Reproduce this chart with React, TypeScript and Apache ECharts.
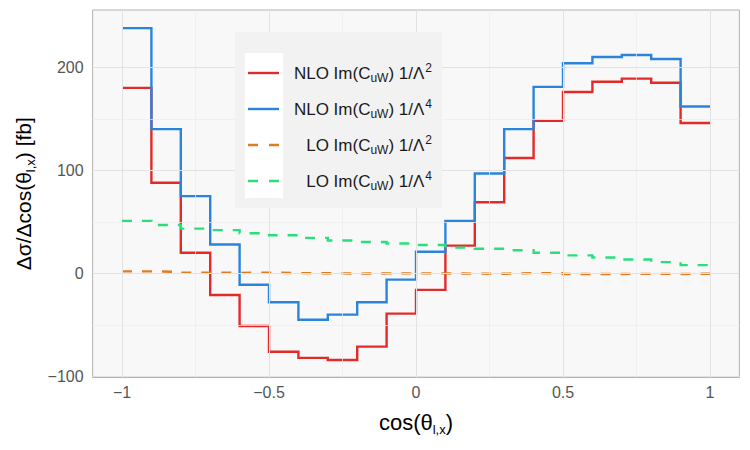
import React, { useEffect, useRef } from "react";
import * as echarts from "echarts";

const binEdges = [-1, -0.9, -0.8, -0.7, -0.6, -0.5, -0.4, -0.3, -0.2, -0.1, 0, 0.1, 0.2, 0.3, 0.4, 0.5, 0.6, 0.7, 0.8, 0.9, 1];

const nloL2 = [180, 88, 20, -21, -51, -76, -82, -84, -71, -39, -16, 27, 69, 112, 148, 176, 186, 189, 185, 146];
const nloL4 = [238, 140, 75, 28, -11, -28, -45, -40, -28, -6, 21, 51, 97, 140, 181, 204, 210, 212, 208, 162];
const loL2 = [2, 1.5, 0.8, 0.5, 0.8, 0.3, 0.2, -0.2, 0, 0, 0, -0.2, -0.3, 0.3, 0.2, -0.5, -0.5, -0.4, -0.5, -0.3];
const loL4 = [51, 47, 43.5, 42, 39, 37, 34.5, 32, 30.5, 29, 27.5, 25, 24, 22.5, 20, 17.5, 15.5, 13.5, 11, 8];

const xTicks = [-1, -0.5, 0, 0.5, 1];
const xMinor = [-0.75, -0.25, 0.25, 0.75];
const yTicks = [-100, 0, 100, 200];
const yMinor = [-50, 50, 150];

const seriesNames = ["NLO L2", "NLO L4", "LO L2", "LO L4"];
const colors = ["#e32a2a", "#2a84dc", "#e07d22", "#2ade7a"];

const FONT = "Liberation Sans, Arial, Helvetica, sans-serif";

function stepData(vals: number[]) {
  return binEdges.map((x, i) => [x, vals[Math.min(i, vals.length - 1)]]);
}

const fmtMinus = (v: number) => String(v).replace("-", "\u2212");

export default function App() {
  const ref = useRef<HTMLDivElement>(null);
  useEffect(() => {
    if (!ref.current) return;
    const chart = echarts.init(ref.current, undefined, { renderer: "svg" });
    const dataSets = [nloL2, nloL4, loL2, loL4];
    const dashed = [false, false, true, true];

    const legendTop = 32;
    const legendRows = [73, 109, 145, 181];
    const legendLabels = ["NLO", "NLO", "LO", "LO"];
    const legendPow = ["2", "4", "2", "4"];

    const legendGraphics: any[] = [
      { type: "rect", shape: { x: 235, y: legendTop, width: 207, height: 176 }, style: { fill: "#f2f2f2" }, z: 100 },
      { type: "rect", shape: { x: 245, y: 53, width: 38, height: 145 }, style: { fill: "#ffffff" }, z: 101 },
    ];
    legendRows.forEach((cy, i) => {
      legendGraphics.push({
        type: "line",
        shape: { x1: 248, y1: cy, x2: 279, y2: cy },
        style: { stroke: colors[i], lineWidth: 2.4, lineDash: dashed[i] ? [10, 11] : null },
        z: 102,
      });
      legendGraphics.push({
        type: "text",
        x: 432,
        y: cy,
        z: 102,
        style: {
          text: `{a|${legendLabels[i]} Im(C}{s|uW}{a|) 1/\u039b}{p|${legendPow[i]}}`,
          align: "right",
          verticalAlign: "middle",
          rich: {
            a: { fontSize: 17, fontFamily: FONT, fill: "#1a1a1a", lineHeight: 22, verticalAlign: "middle" },
            s: { fontSize: 12, fontFamily: FONT, fill: "#1a1a1a", lineHeight: 12, verticalAlign: "bottom", padding: [8, 0, 0, 0] },
            p: { fontSize: 12, fontFamily: FONT, fill: "#1a1a1a", lineHeight: 12, verticalAlign: "top", padding: [0, 0, 7, 1] },
          },
        },
      });
    });

    const gridMarks = {
      silent: true,
      symbol: ["none", "none"],
      label: { show: false },
      animation: false,
      data: [
        ...xTicks.map((v) => ({ xAxis: v, lineStyle: { color: "#e2e2e2", width: 1, type: "solid" } })),
        ...xMinor.map((v) => ({ xAxis: v, lineStyle: { color: "#ececec", width: 0.7, type: "solid" } })),
        ...yTicks.map((v) => ({ yAxis: v, lineStyle: { color: "#e2e2e2", width: 1, type: "solid" } })),
        ...yMinor.map((v) => ({ yAxis: v, lineStyle: { color: "#ececec", width: 0.7, type: "solid" } })),
      ],
    };

    chart.setOption({
      animation: false,
      grid: {
        left: 92.6,
        right: 10.6,
        top: 10,
        bottom: 72.5,
        show: true,
        backgroundColor: "#f8f8f8",
        borderColor: "#b3b3b3",
        borderWidth: 1,
      },
      xAxis: {
        type: "value",
        min: -1.1,
        max: 1.1,
        splitLine: { show: false },
        axisLine: { show: false },
        axisTick: { show: true, customValues: xTicks, length: 4, lineStyle: { color: "#b3b3b3", width: 1 } },
        axisLabel: {
          customValues: xTicks,
          formatter: (v: number) => fmtMinus(v),
          color: "#555555",
          fontSize: 16,
          fontFamily: FONT,
          margin: 7,
        },
        name: "{a|cos(\u03b8}{s|l,x}{a|)}",
        nameLocation: "middle",
        nameGap: 32,
        nameTextStyle: {
          rich: {
            a: { fontSize: 22, fontFamily: FONT, color: "#000", lineHeight: 26, verticalAlign: "middle" },
            s: { fontSize: 13, fontFamily: FONT, color: "#000", lineHeight: 13, verticalAlign: "bottom", padding: [10, 0, 0, 0] },
          },
        },
      },
      yAxis: {
        type: "value",
        min: -101,
        max: 255.6,
        splitLine: { show: false },
        axisLine: { show: false },
        axisTick: { show: true, customValues: yTicks, length: 4, lineStyle: { color: "#b3b3b3", width: 1 } },
        axisLabel: {
          customValues: yTicks,
          formatter: (v: number) => fmtMinus(v),
          color: "#555555",
          fontSize: 16,
          fontFamily: FONT,
          margin: 9,
        },
        name: "{a|\u0394\u03c3/\u0394cos(\u03b8}{s|l,x}{a|) [fb]}",
        nameLocation: "middle",
        nameRotate: 90,
        nameGap: 56,
        nameTextStyle: {
          rich: {
            a: { fontSize: 21, fontFamily: FONT, color: "#000", lineHeight: 26, verticalAlign: "middle" },
            s: { fontSize: 13, fontFamily: FONT, color: "#000", lineHeight: 13, verticalAlign: "bottom", padding: [10, 0, 0, 0] },
          },
        },
      },
      series: [
        {
          name: "grid",
          type: "line",
          data: [[-1, 0]],
          symbol: "none",
          lineStyle: { width: 0, opacity: 0 },
          z: 1,
          silent: true,
          markLine: gridMarks,
        },
        ...dataSets.map((vals, i) => ({
          name: seriesNames[i],
          type: "line",
          step: "end",
          data: stepData(vals),
          symbol: "none",
          showSymbol: false,
          z: 2 + i,
          lineStyle: { color: colors[i], width: 2.4, type: dashed[i] ? [10, 10] : "solid", join: "miter", cap: "butt" },
          itemStyle: { color: colors[i] },
          emphasis: { disabled: true },
        })),
      ],
      graphic: legendGraphics,
    });
    return () => chart.dispose();
  }, []);
  return <div ref={ref} style={{ width: 750, height: 450, position: "absolute", left: 0, top: 0 }} />;
}
